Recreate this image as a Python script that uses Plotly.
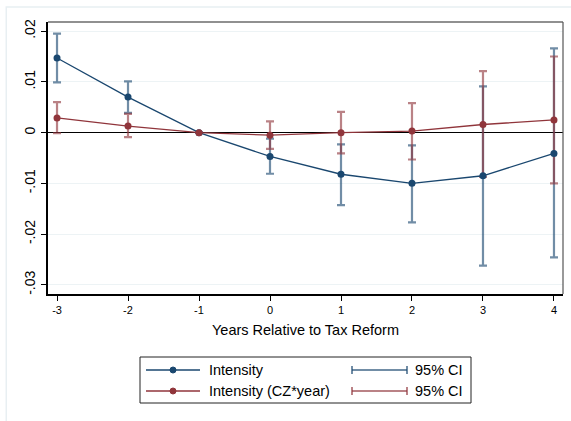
import plotly.graph_objects as go

years = [-3, -2, -1, 0, 1, 2, 3, 4]
blue_est = [0.0147, 0.0070, 0.0, -0.0047, -0.0082, -0.0100, -0.0085, -0.0041]
blue_hi = [0.0195, 0.0101, 0.0, -0.0012, -0.0023, -0.0025, 0.0091, 0.0166]
blue_lo = [0.0099, 0.0039, 0.0, -0.0081, -0.0143, -0.0177, -0.0262, -0.0246]
red_est = [0.0029, 0.0013, 0.0, -0.0005, 0.0000, 0.0003, 0.0016, 0.0025]
red_hi = [0.0060, 0.0037, 0.0, 0.0022, 0.0041, 0.0058, 0.0121, 0.0150]
red_lo = [-0.0001, -0.0009, 0.0, -0.0032, -0.0041, -0.0053, -0.0087, -0.0100]

ytick_vals = [0.02, 0.01, 0.0, -0.01, -0.02, -0.03]
ytick_text = [".02", ".01", "0", "-.01", "-.02", "-.03"]
xtick_vals = years
xtick_text = [str(v) for v in years]

legend_labels = ["Intensity", "95% CI", "Intensity (CZ*year)", "95% CI"]

NAVY = "#1a476f"
MAROON = "#90353b"
NAVY_CI = "rgba(26,71,111,0.62)"
MAROON_CI = "rgba(144,53,59,0.62)"
FONT = "Liberation Sans, Arial, sans-serif"

fig = go.Figure()


def ci_trace(est, hi, lo, color):
    return go.Scatter(
        x=years, y=est, mode="markers",
        marker=dict(size=1, opacity=0),
        error_y=dict(type="data", symmetric=False,
                     array=[h - e for h, e in zip(hi, est)],
                     arrayminus=[e - l for e, l in zip(est, lo)],
                     color=color, thickness=2.2, width=4),
        showlegend=False, hoverinfo="skip")


fig.add_trace(ci_trace(blue_est, blue_hi, blue_lo, NAVY_CI))
fig.add_trace(ci_trace(red_est, red_hi, red_lo, MAROON_CI))
fig.add_trace(go.Scatter(x=years, y=blue_est, mode="lines+markers",
                         line=dict(color=NAVY, width=1.3),
                         marker=dict(color=NAVY, size=7), showlegend=False))
fig.add_trace(go.Scatter(x=years, y=red_est, mode="lines+markers",
                         line=dict(color=MAROON, width=1.3),
                         marker=dict(color=MAROON, size=7), showlegend=False))

shapes = []
# outer graph region frame
shapes.append(dict(type="rect", xref="paper", yref="paper",
                   x0=-0.081, x1=1.03, y0=-1.0, y1=1.055,
                   line=dict(color="#e8eff2", width=1.5), layer="below"))
# top/right frame of plot
shapes.append(dict(type="line", xref="paper", yref="paper", x0=0, x1=1, y0=1, y1=1,
                   line=dict(color="#222", width=1.2)))
shapes.append(dict(type="line", xref="paper", yref="paper", x0=1, x1=1, y0=0, y1=1,
                   line=dict(color="#555", width=1.2)))


def px(xp):
    return (xp - 48) / 515.0


def py(yp):
    return (294 - yp) / 272.0


# legend box
shapes.append(dict(type="rect", xref="paper", yref="paper",
                   x0=px(140), x1=px(471), y0=py(403), y1=py(357),
                   line=dict(color="#222", width=1), fillcolor="white"))
rows = [370, 391]
cols = [NAVY, MAROON]
ci_cols = [NAVY_CI, MAROON_CI]
annotations = []
for r, c, cc, lab in zip(rows, cols, ci_cols, [legend_labels[0], legend_labels[2]]):
    shapes.append(dict(type="line", xref="paper", yref="paper",
                       x0=px(146), x1=px(200), y0=py(r), y1=py(r),
                       line=dict(color=c, width=1.3)))
    shapes.append(dict(type="circle", xref="paper", yref="paper",
                       x0=px(170), x1=px(176), y0=py(r + 3), y1=py(r - 3),
                       line=dict(color=c, width=1), fillcolor=c))
    shapes.append(dict(type="line", xref="paper", yref="paper",
                       x0=px(352), x1=px(407), y0=py(r), y1=py(r),
                       line=dict(color=cc, width=2)))
    for xx in (352, 407):
        shapes.append(dict(type="line", xref="paper", yref="paper",
                           x0=px(xx), x1=px(xx), y0=py(r + 4), y1=py(r - 4),
                           line=dict(color=cc, width=2)))
    annotations.append(dict(xref="paper", yref="paper", x=px(207), y=py(r),
                            text=lab, showarrow=False, xanchor="left", yanchor="middle",
                            font=dict(family=FONT, size=14.5, color="black")))
    annotations.append(dict(xref="paper", yref="paper", x=px(413), y=py(r),
                            text="95% CI", showarrow=False, xanchor="left", yanchor="middle",
                            font=dict(family=FONT, size=14.5, color="black")))

fig.update_layout(
    width=571, height=421,
    margin=dict(l=48, r=8, t=22, b=127),
    paper_bgcolor="white", plot_bgcolor="white",
    showlegend=False,
    shapes=shapes, annotations=annotations,
    font=dict(family=FONT, color="black"),
    xaxis=dict(range=[-3.127, 4.127], tickvals=xtick_vals, ticktext=xtick_text,
               ticks="outside", ticklen=5, tickcolor="black", tickwidth=1,
               showgrid=False, zeroline=False,
               showline=True, linecolor="black", linewidth=2,
               tickfont=dict(family=FONT, size=11),
               title=dict(text="Years Relative to Tax Reform",
                          font=dict(family=FONT, size=14.5), standoff=10)),
    yaxis=dict(range=[-0.0318, 0.0218], tickvals=ytick_vals, ticktext=ytick_text,
               tickangle=-90, ticks="outside", ticklen=5, tickcolor="black", tickwidth=1,
               showgrid=True, gridcolor="#edf3f5", gridwidth=1,
               zeroline=True, zerolinecolor="black", zerolinewidth=1.3,
               showline=True, linecolor="black", linewidth=2,
               tickfont=dict(family=FONT, size=14)),
)

fig.write_html("out.html", config={"displayModeBar": False},
               post_script="document.body.style.margin='0';")
